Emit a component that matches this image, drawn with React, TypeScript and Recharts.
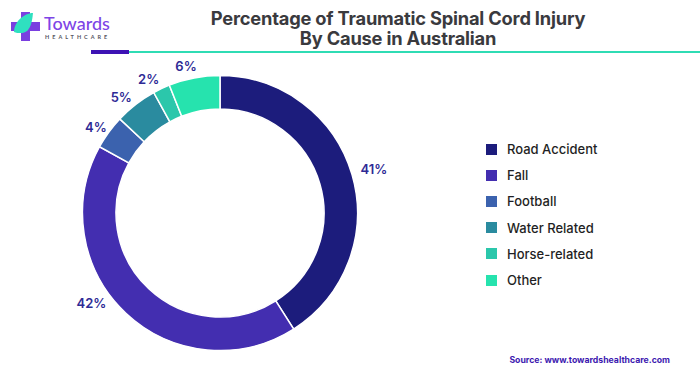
import React from "react";
import { PieChart, Pie, Cell, Legend } from "recharts";

const categories = ["Road Accident", "Fall", "Football", "Water Related", "Horse-related", "Other"];
const values = [41, 42, 4, 5, 2, 6];
const colors = ["#1c1c7c", "#432eb0", "#3b62ae", "#2a8b9f", "#2bc7ab", "#26e3ae"];
const labelAngles = [74, 235, 304.7, 319.5, 332, 347];
const labelRadii = [160, 157, 151, 152, 152, 151];
const titleLines = ["Percentage of Traumatic Spinal Cord Injury", "By Cause in Australian"];
const source = "Source: www.towardshealthcare.com";

const data = categories.map((name, i) => ({ name, value: values[i] }));
const FONT = "Inter, 'Noto Sans', sans-serif";

const renderLabel = (p: any) => {
  const i = p.index;
  const a = (labelAngles[i] * Math.PI) / 180;
  return (
    <text
      x={p.cx + labelRadii[i] * Math.sin(a)}
      y={p.cy - labelRadii[i] * Math.cos(a)}
      textAnchor="middle"
      dominantBaseline="central"
      fontFamily={FONT}
      fontSize={13}
      fontWeight={600}
      fill="#2e2a95"
    >
      {values[i]}%
    </text>
  );
};

const LegendContent = ({ payload }: any) => (
  <div style={{ fontFamily: FONT }}>
    {(payload || []).map((e: any) => (
      <div key={e.value} style={{ display: "flex", alignItems: "center", height: 26.2 }}>
        <span style={{ width: 11, height: 11, background: e.color, marginRight: 10, flex: "none" }} />
        <span style={{ fontSize: 13, fontWeight: 500, color: "#1f1f24", whiteSpace: "nowrap" }}>{e.value}</span>
      </div>
    ))}
  </div>
);

const Logo = () => (
  <svg width={120} height={48} style={{ position: "absolute", left: 0, top: 0 }}>
    <path d="M21 12h9v10h10v9H30v10h-9V31H11v-9h10z" fill="#7a3fe0" />
    <path d="M14 32c0-10 10-19 19-19-1 10-3 20-12 20-3 0-5 0-7-1z" fill="#2fe0c0" />
    <text x={44} y={30} fontFamily="Lato, sans-serif" fontSize={18} fontWeight={500} fill="#7d45e6">Towards</text>
    <text x={45} y={39} fontFamily="Lato, sans-serif" fontSize={5.5} fontWeight={700} letterSpacing={3} fill="#55555f">HEALTHCARE</text>
  </svg>
);

export default function App() {
  return (
    <div style={{ position: "absolute", left: 0, top: 0, width: 700, height: 375, background: "#fff", overflow: "hidden" }}>
      <Logo />
      <div style={{ position: "absolute", left: 98, width: 600, top: 8, textAlign: "center", fontFamily: FONT, fontSize: 18.3, fontWeight: 700, lineHeight: "20px", color: "#3a3a3e", letterSpacing: -0.2 }}>
        {titleLines.map((t) => <div key={t}>{t}</div>)}
      </div>
      <div style={{ position: "absolute", left: 129, top: 51, width: 571, height: 2, background: "#2fdcb4" }} />
      <div style={{ position: "absolute", left: 91, top: 49.5, width: 38, height: 4.5, background: "#3d12b4" }} />
      <PieChart width={700} height={375} margin={{ top: 0, right: 0, bottom: 0, left: 0 }} style={{ position: "absolute", left: 0, top: 0 }}>
        <Pie
          data={data}
          dataKey="value"
          nameKey="name"
          cx={220}
          cy={213}
          innerRadius={104}
          outerRadius={137.5}
          startAngle={90}
          endAngle={-270}
          stroke="#fff"
          strokeWidth={1.5}
          label={renderLabel}
          labelLine={false}
          isAnimationActive={false}
        >
          {data.map((d, i) => <Cell key={d.name} fill={colors[i]} />)}
        </Pie>
        <Legend layout="vertical" itemSorter={null} content={<LegendContent />} wrapperStyle={{ position: "absolute", left: 486, top: 136, width: 180, bottom: "auto", right: "auto" }} />
      </PieChart>
      <div style={{ position: "absolute", right: 30, top: 355, fontFamily: FONT, fontSize: 8.7, fontWeight: 700, color: "#3d1ab0", whiteSpace: "nowrap" }}>{source}</div>
    </div>
  );
}
